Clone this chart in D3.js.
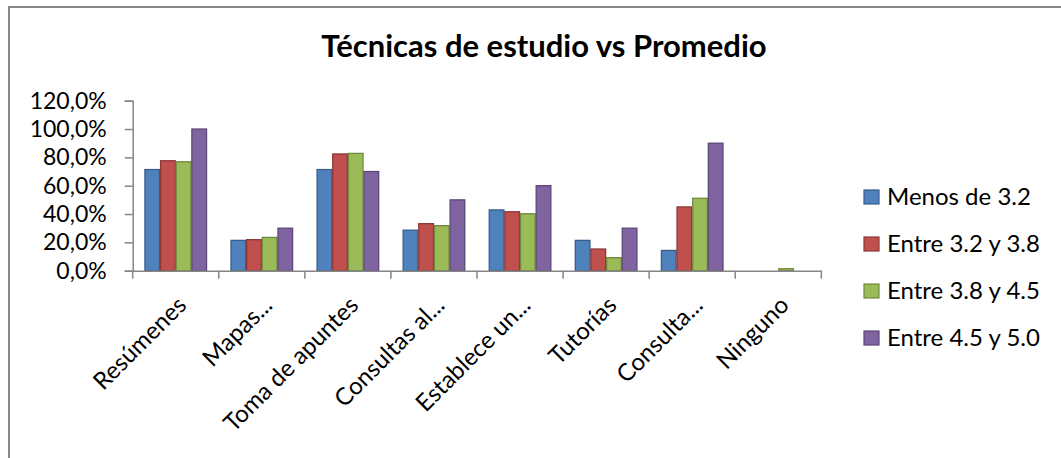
<!DOCTYPE html>
<html>
<head>
<meta charset="utf-8">
<script src="https://cdn.jsdelivr.net/npm/d3@7"></script>
<style>
  html, body { margin: 0; padding: 0; background: #fff; }
  svg { display: block; font-family: Lato, "Open Sans", sans-serif; }
</style>
</head>
<body>
<svg id="chart" width="1061" height="458"></svg>
<script>
// data
const categories = ['Resúmenes', 'Mapas...', 'Toma de apuntes', 'Consultas al...', 'Establece un...', 'Tutorías', 'Consulta...', 'Ninguno'];
const seriesNames = ['Menos de 3.2', 'Entre 3.2 y 3.8', 'Entre 3.8 y 4.5', 'Entre 4.5 y 5.0'];
const menos32 = [0.714, 0.214, 0.714, 0.286, 0.429, 0.214, 0.143, 0];
const entre32y38 = [0.776, 0.219, 0.824, 0.332, 0.416, 0.153, 0.45, 0];
const entre38y45 = [0.769, 0.235, 0.828, 0.318, 0.402, 0.092, 0.511, 0.014];
const entre45y50 = [1.0, 0.3, 0.7, 0.5, 0.6, 0.3, 0.9, 0];
const yTicks = [0, 0.2, 0.4, 0.6, 0.8, 1.0, 1.2];

const fills = ['#4F81BD', '#C0504D', '#9BBB59', '#8064A2'];
const strokes = ['#385D8A', '#8C3836', '#71893F', '#5C4776'];

const seriesValues = [menos32, entre32y38, entre38y45, entre45y50];
const rows = categories.map((c, i) => ({
  cat: c,
  vals: seriesNames.map((s, j) => ({ s, j, v: seriesValues[j][i] }))
}));

const svg = d3.select('#chart');
const axisColor = '#868686';
const font = 'Lato, "Open Sans", sans-serif';

// chart frame (runs past the right and bottom edges, as in the picture)
svg.append('rect')
  .attr('x', 9).attr('y', 7)
  .attr('width', 1080).attr('height', 520)
  .attr('fill', '#fff')
  .attr('stroke', axisColor)
  .attr('stroke-width', 2);

const plot = { left: 132.7, right: 821.3, top: 100.7, bottom: 270.7 };

const x = d3.scaleBand().domain(categories).range([plot.left, plot.right]);
const xs = d3.scaleBand().domain(seriesNames).range([0, x.bandwidth()]).paddingOuter(0.75);
const y = d3.scaleLinear().domain([0, 1.2]).range([plot.bottom, plot.top]);

const es = d3.formatLocale({ decimal: ',', thousands: '.', grouping: [3], currency: ['', '€'] });
const pct = es.format('.1%');

// title
svg.append('text')
  .attr('x', 544).attr('y', 57)
  .attr('text-anchor', 'middle')
  .style('font-size', '31px')
  .style('font-weight', 'bold')
  .attr('fill', '#000')
  .text('Técnicas de estudio vs Promedio');

// bars
const groups = svg.selectAll('.cat').data(rows).enter().append('g')
  .attr('class', 'cat')
  .attr('transform', d => `translate(${x(d.cat)},0)`);

groups.selectAll('rect').data(d => d.vals).enter().append('rect')
  .attr('x', d => xs(d.s) + 0.5)
  .attr('width', xs.bandwidth() - 1)
  .attr('y', d => y(d.v))
  .attr('height', d => y(0) - y(d.v))
  .attr('fill', d => fills[d.j])
  .attr('stroke', d => strokes[d.j])
  .attr('stroke-width', d => d.v > 0 ? 1.3 : 0);

// y axis
const yAxis = svg.append('g')
  .attr('transform', `translate(${plot.left},0)`)
  .call(d3.axisLeft(y).tickValues(yTicks).tickFormat(pct).tickSize(8).tickPadding(18));
yAxis.select('.domain').attr('stroke', axisColor).attr('stroke-width', 1.5);
yAxis.selectAll('.tick line').attr('stroke', axisColor).attr('stroke-width', 1.5);
yAxis.selectAll('.tick text')
  .attr('fill', '#000')
  .style('font-family', font)
  .style('font-size', '23px');

// x axis
const xAxis = svg.append('g')
  .attr('transform', `translate(0,${plot.bottom})`)
  .call(d3.axisBottom(x).tickSize(0).tickFormat(''));
xAxis.select('.domain').attr('stroke', axisColor).attr('stroke-width', 1.5);
xAxis.selectAll('.tick').remove();

// tick marks sit on the category boundaries
const bounds = categories.map(c => x(c)).concat([plot.right]);
xAxis.selectAll('.bound').data(bounds).enter().append('line')
  .attr('class', 'bound')
  .attr('x1', d => d).attr('x2', d => d)
  .attr('y1', 0).attr('y2', 8)
  .attr('stroke', axisColor).attr('stroke-width', 1.5);

xAxis.selectAll('.lbl').data(categories).enter().append('text')
  .attr('class', 'lbl')
  .attr('transform', d => `translate(${x(d) + x.bandwidth() / 2 + 12},${36}) rotate(-45)`)
  .attr('text-anchor', 'end')
  .attr('fill', '#000')
  .style('font-family', font)
  .style('font-size', '24px')
  .text(d => d);

// legend
const legend = svg.append('g').attr('transform', 'translate(864,197)');
const item = legend.selectAll('.item').data(seriesNames).enter().append('g')
  .attr('class', 'item')
  .attr('transform', (d, i) => `translate(0,${i * 47})`);
item.append('rect')
  .attr('x', 0).attr('y', -7)
  .attr('width', 15).attr('height', 14)
  .attr('fill', (d, i) => fills[i])
  .attr('stroke', (d, i) => strokes[i])
  .attr('stroke-width', 1.2);
item.append('text')
  .attr('x', 23).attr('y', 0)
  .attr('dy', '0.35em')
  .attr('fill', '#000')
  .style('font-size', '24px')
  .text(d => d);
</script>
</body>
</html>
